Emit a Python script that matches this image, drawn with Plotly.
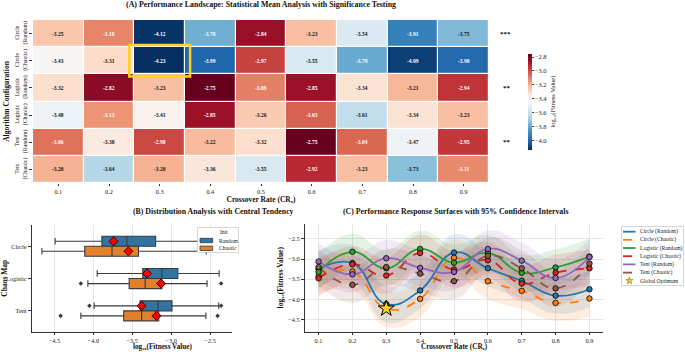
import plotly.graph_objects as go

FONT = "Liberation Serif"

# ---------------- data ----------------
crossover_rates = [0.1, 0.2, 0.3, 0.4, 0.5, 0.6, 0.7, 0.8, 0.9]
config_names = ["Circle (Random)", "Circle (Chaotic)", "Logistic (Random)",
                "Logistic (Chaotic)", "Tent (Random)", "Tent (Chaotic)"]
config_ticks = ["Circle<br>(Random)", "Circle<br>(Chaotic)", "Logistic<br>(Random)",
                "Logistic<br>(Chaotic)", "Tent<br>(Random)", "Tent<br>(Chaotic)"]

circle_random = [-3.25, -3.10, -4.12, -3.78, -2.84, -3.23, -3.54, -3.91, -3.75]
circle_chaotic = [-3.43, -3.31, -4.23, -3.99, -2.97, -3.55, -3.79, -4.09, -3.98]
logistic_random = [-3.32, -2.82, -3.23, -2.75, -3.09, -2.85, -3.34, -3.21, -2.94]
logistic_chaotic = [-3.48, -3.13, -3.41, -2.85, -3.26, -3.03, -3.61, -3.34, -3.23]
tent_random = [-3.06, -3.38, -2.98, -3.22, -3.32, -2.75, -3.04, -3.47, -2.95]
tent_chaotic = [-3.20, -3.64, -3.20, -3.36, -3.55, -2.92, -3.23, -3.73, -3.11]
significance = ["***", "", "**", "", "**", ""]
ci_halfwidth = [0.45, 0.45, 0.45, 0.45, 0.45, 0.45]

chaos_maps = ["Circle", "Logistic", "Tent"]
init_types = ["Random", "Chaotic"]
random_q1 = [-3.89, -3.365, -3.40]
random_median = [-3.57, -3.12, -3.17]
random_q3 = [-3.20, -2.915, -2.99]
random_lower = [-4.49, -3.95, -3.99]
random_upper = [-2.45, -2.385, -2.39]
random_mean = [-3.74, -3.31, -3.38]
random_outliers = [[], [], [-4.05, -2.36]]
chaotic_q1 = [-4.11, -3.54, -3.61]
chaotic_median = [-3.76, -3.335, -3.38]
chaotic_q3 = [-3.42, -3.12, -3.16]
chaotic_lower = [-4.66, -4.07, -4.16]
chaotic_upper = [-2.55, -2.54, -2.555]
chaotic_mean = [-3.55, -3.13, -3.19]
chaotic_outliers = [[], [-4.16, -2.36], [-4.42, -2.405]]

series = [circle_random, circle_chaotic, logistic_random,
          logistic_chaotic, tent_random, tent_chaotic]

# ---------------- styles ----------------
W, H = 685, 352
def px(x): return x / W
def py(y): return 1 - y / H

line_colors = ["#1f77b4", "#ff7f0e", "#2ca02c", "#d62728", "#9467bd", "#8c564b"]
line_dash = ["solid", "dash", "solid", "dash", "solid", "dash"]
box_colors = {"Random": "#3274A1", "Chaotic": "#E1812C"}

rdbu = ['#67001f', '#b2182b', '#d6604d', '#f4a582', '#fddbc7', '#f7f7f7',
        '#d1e5f0', '#92c5de', '#4393c3', '#2166ac', '#053061'][::-1]
colorscale = [[i / (len(rdbu) - 1), c] for i, c in enumerate(rdbu)]
ZMIN, ZMAX = -4.13, -2.75

def hex2rgb(h):
    h = h.lstrip('#')
    return tuple(int(h[i:i + 2], 16) for i in (0, 2, 4))

def cell_rgb(v):
    t = min(max((v - ZMIN) / (ZMAX - ZMIN), 0), 1) * (len(rdbu) - 1)
    i = min(int(t), len(rdbu) - 2)
    f = t - i
    a, b = hex2rgb(rdbu[i]), hex2rgb(rdbu[i + 1])
    return [a[k] + (b[k] - a[k]) * f for k in range(3)]

def luminance(rgb):
    out = []
    for c in rgb:
        c = c / 255
        out.append(c / 12.92 if c <= 0.03928 else ((c + 0.055) / 1.055) ** 2.4)
    return 0.2126 * out[0] + 0.7152 * out[1] + 0.0722 * out[2]

def rgba(h, a):
    r, g, b = hex2rgb(h)
    return f"rgba({r},{g},{b},{a})"

fig = go.Figure()
annotations = []
shapes = []

# ---------------- (A) heatmap ----------------
xcats = [f"{c:.1f}" for c in crossover_rates]
fig.add_trace(go.Heatmap(
    z=series, x=xcats, y=config_ticks, colorscale=colorscale,
    zmin=ZMIN, zmax=ZMAX, xgap=1.2, ygap=1.2, xaxis="x", yaxis="y",
    hoverinfo="skip",
    colorbar=dict(x=px(517.5), xanchor="left", y=py(101.6), yanchor="middle",
                  len=115.5 / H, lenmode="fraction", thickness=4, outlinewidth=0,
                  tickvals=[-4.0, -3.8, -3.6, -3.4, -3.2, -3.0, -2.8],
                  tickformat=".1f", ticks="outside", ticklen=2, tickwidth=0.8,
                  tickfont=dict(family=FONT, size=6.5, color="#222"),
                  title=dict(text="log₁₀(Fitness Value)", side="right",
                             font=dict(family=FONT, size=6.5, color="#222")))))

for i, row in enumerate(series):
    for j, v in enumerate(row):
        col = "white" if luminance(cell_rgb(v)) <= 0.408 else "#111"
        annotations.append(dict(x=j, y=i, xref="x", yref="y",
                                text=f"<b>{v:.2f}</b>", showarrow=False,
                                font=dict(family=FONT, size=5.5, color=col)))
    if significance[i]:
        annotations.append(dict(x=px(513), y=i, xref="paper", yref="y",
                                text=f"<b>{significance[i]}</b>", showarrow=False,
                                font=dict(family=FONT, size=7, color="#111")))

# highlight best cell
best_i, best_j = min(((i, j) for i in range(len(series)) for j in range(len(series[0]))),
                     key=lambda t: series[t[0]][t[1]])
shapes.append(dict(type="rect", xref="x", yref="y", x0=best_j - 0.6, x1=best_j + 0.6,
                   y0=best_i - 0.58, y1=best_i + 0.58,
                   line=dict(color="#FFD21F", width=2.5)))

# ---------------- (B) box plot ----------------
box_sets = {
    "Random": (random_q1, random_median, random_q3, random_lower, random_upper, random_mean, random_outliers, -0.155),
    "Chaotic": (chaotic_q1, chaotic_median, chaotic_q3, chaotic_lower, chaotic_upper, chaotic_mean, chaotic_outliers, 0.155),
}
for name, (q1, med, q3, lo, hi, mean, outl, off) in box_sets.items():
    pos = [k + off for k in range(len(chaos_maps))]
    fig.add_trace(go.Box(orientation="h", y=pos, q1=q1, median=med, q3=q3,
                         lowerfence=lo, upperfence=hi, width=0.31, whiskerwidth=0.65,
                         fillcolor=box_colors[name], line=dict(color="#3a3a3a", width=1.1),
                         boxpoints=False, name=name, showlegend=False,
                         xaxis="x2", yaxis="y2", hoverinfo="skip"))
    ox, oy = [], []
    for k, lst in enumerate(outl):
        for v in lst:
            ox.append(v)
            oy.append(pos[k])
    fig.add_trace(go.Scatter(x=ox, y=oy, mode="markers", xaxis="x2", yaxis="y2",
                             marker=dict(symbol="diamond", size=3.5, color="#3a3a3a"),
                             showlegend=False, hoverinfo="skip"))
for name, (q1, med, q3, lo, hi, mean, outl, off) in box_sets.items():
    pos = [k + off for k in range(len(chaos_maps))]
    fig.add_trace(go.Scatter(x=mean, y=pos, mode="markers", xaxis="x2", yaxis="y2",
                             marker=dict(symbol="diamond", size=7, color="red",
                                         line=dict(color="black", width=0.8)),
                             showlegend=False, hoverinfo="skip"))

# ---------------- (C) response curves ----------------
for k, vals in enumerate(series):
    up = [v + ci_halfwidth[k] for v in vals]
    lo = [v - ci_halfwidth[k] for v in vals]
    fig.add_trace(go.Scatter(x=crossover_rates, y=up, mode="lines", xaxis="x3", yaxis="y3",
                             line=dict(width=0, shape="spline", smoothing=1.3),
                             showlegend=False, hoverinfo="skip"))
    fig.add_trace(go.Scatter(x=crossover_rates, y=lo, mode="lines", xaxis="x3", yaxis="y3",
                             line=dict(width=0, shape="spline", smoothing=1.3),
                             fill="tonexty", fillcolor=rgba(line_colors[k], 0.13),
                             showlegend=False, hoverinfo="skip"))
for k, vals in enumerate(series):
    fig.add_trace(go.Scatter(x=crossover_rates, y=vals, mode="lines", xaxis="x3", yaxis="y3",
                             name=config_names[k],
                             line=dict(color=line_colors[k], width=1.8, dash=line_dash[k],
                                       shape="spline", smoothing=1.3),
                             showlegend=False, hoverinfo="skip"))
for k, vals in enumerate(series):
    fig.add_trace(go.Scatter(x=crossover_rates, y=vals, mode="markers", xaxis="x3", yaxis="y3",
                             marker=dict(size=5.5, color=line_colors[k],
                                         line=dict(color="black", width=0.8)),
                             showlegend=False, hoverinfo="skip"))
fig.add_trace(go.Scatter(x=[crossover_rates[best_j]], y=[series[best_i][best_j]],
                         mode="markers", xaxis="x3", yaxis="y3", name="Global Optimum",
                         marker=dict(symbol="star", size=12, color="#FFD21F",
                                     line=dict(color="black", width=1)),
                         showlegend=False, hoverinfo="skip"))

# ---------------- legends (drawn as layout items) ----------------
LEGFONT = dict(family=FONT, size=5.6, color="#222")
# panel C legend
shapes.append(dict(type="rect", xref="paper", yref="paper", x0=px(621.5), x1=px(683.5),
                   y0=py(285.5), y1=py(226.5), line=dict(color="#cccccc", width=0.8),
                   fillcolor="white", layer="above"))
leg_y = [231.7, 239.8, 248.0, 256.2, 264.4, 272.6, 280.8]
for k in range(len(series)):
    shapes.append(dict(type="line", xref="paper", yref="paper", x0=px(623), x1=px(635.5),
                       y0=py(leg_y[k]), y1=py(leg_y[k]),
                       line=dict(color=line_colors[k], width=1.8,
                                 dash="dash" if line_dash[k] == "dash" else "solid"),
                       layer="above"))
    annotations.append(dict(x=px(638), y=py(leg_y[k]), xref="paper", yref="paper",
                            xanchor="left", yanchor="middle", text=config_names[k],
                            showarrow=False, font=LEGFONT))
annotations.append(dict(x=px(629.3), y=py(leg_y[6]), xref="paper", yref="paper",
                        text="★", showarrow=False, xanchor="center", yanchor="middle",
                        font=dict(family="DejaVu Sans", size=10, color="#FFD21F")))
annotations.append(dict(x=px(629.3), y=py(leg_y[6]), xref="paper", yref="paper",
                        text="☆", showarrow=False, xanchor="center", yanchor="middle",
                        font=dict(family="DejaVu Sans", size=10, color="black")))
annotations.append(dict(x=px(638), y=py(leg_y[6]), xref="paper", yref="paper",
                        xanchor="left", yanchor="middle", text="Global Optimum",
                        showarrow=False, font=LEGFONT))

# panel B legend
shapes.append(dict(type="rect", xref="paper", yref="paper", x0=px(197.5), x1=px(238.5),
                   y0=py(252.5), y1=py(227.5), line=dict(color="#cccccc", width=0.8),
                   fillcolor="white", layer="above"))
annotations.append(dict(x=px(217.7), y=py(231.5), xref="paper", yref="paper",
                        text="Init", showarrow=False, font=LEGFONT))
for k, name in enumerate(init_types):
    yy = [240.5, 248.3][k]
    shapes.append(dict(type="rect", xref="paper", yref="paper", x0=px(200), x1=px(212.7),
                       y0=py(yy + 2.2), y1=py(yy - 2.2), fillcolor=box_colors[name],
                       line=dict(color="#3a3a3a", width=0.8), layer="above"))
    annotations.append(dict(x=px(216.5), y=py(yy), xref="paper", yref="paper",
                            xanchor="left", yanchor="middle", text=name, showarrow=False,
                            font=LEGFONT))

# ---------------- titles ----------------
annotations.append(dict(x=px(261), y=py(5), xref="paper", yref="paper",
                        text="<b>(A) Performance Landscape: Statistical Mean Analysis with Significance Testing</b>",
                        showarrow=False, yanchor="middle",
                        font=dict(family=FONT, size=7.9, color="#111")))
annotations.append(dict(x=px(131), y=py(211), xref="paper", yref="paper",
                        text="<b>(B) Distribution Analysis with Central Tendency</b>",
                        showarrow=False, yanchor="middle",
                        font=dict(family=FONT, size=7.8, color="#111")))
annotations.append(dict(x=px(455), y=py(211), xref="paper", yref="paper",
                        text="<b>(C) Performance Response Surfaces with 95% Confidence Intervals</b>",
                        showarrow=False, yanchor="middle",
                        font=dict(family=FONT, size=7.8, color="#111")))

tickfont = dict(family=FONT, size=6.3, color="#222")
titlefont = dict(family=FONT, size=7.5, color="#111")
btitlefont = dict(family=FONT, size=7.2, color="#111")

# bottom axis titles of panels B and C (placed below the tick labels)
annotations.append(dict(x=px(132), y=0, xref="paper", yref="paper",
                        text="<b>log₁₀(Fitness Value)</b>", showarrow=False,
                        yanchor="bottom", borderpad=0, font=btitlefont))
annotations.append(dict(x=px(454), y=0, xref="paper", yref="paper",
                        text="<b>Crossover Rate (CR₀)</b>", showarrow=False,
                        yanchor="bottom", borderpad=0, font=btitlefont))

PB = 331.5  # bottom pixel of panels B and C

fig.update_layout(
    width=W, height=H, autosize=False,
    margin=dict(l=0, r=0, t=0, b=0),
    paper_bgcolor="white", plot_bgcolor="white",
    showlegend=False,
    annotations=annotations, shapes=shapes,
    xaxis=dict(domain=[px(33), px(489)], anchor="y", type="category",
               showgrid=False, zeroline=False, ticks="outside", ticklen=2, tickwidth=0.8,
               tickcolor="#333", tickfont=tickfont, automargin=False,
               title=dict(text="<b>Crossover Rate (CR₀)</b>", font=titlefont, standoff=0)),
    yaxis=dict(domain=[py(183), py(20)], anchor="x", type="category", autorange="reversed",
               showgrid=False, zeroline=False, ticks="outside", ticklen=3, tickwidth=0.8,
               tickcolor="#333", tickangle=-90, tickfont=dict(family=FONT, size=5.8, color="#222"),
               automargin=False,
               title=dict(text="<b>Algorithm Configuration</b>", font=titlefont, standoff=3)),
    xaxis2=dict(domain=[px(32), px(232)], anchor="y2", range=[-4.787, -2.22],
                tickvals=[-4.5, -4.0, -3.5, -3.0, -2.5], tickformat=".1f",
                showgrid=True, gridcolor="#e6e6e6", gridwidth=0.8, zeroline=False,
                showline=True, linecolor="#333", linewidth=1.2,
                ticks="outside", ticklen=2.5, tickwidth=0.8, tickcolor="#333",
                tickfont=tickfont, automargin=False),
    yaxis2=dict(domain=[py(PB), py(225)], anchor="x2", range=[2.64, -0.66],
                tickvals=[0, 1, 2], ticktext=chaos_maps, showgrid=False, zeroline=False,
                showline=True, linecolor="#333", linewidth=1.2,
                ticks="outside", ticklen=3, tickwidth=0.8, tickcolor="#333",
                tickfont=tickfont, automargin=False,
                title=dict(text="<b>Chaos Map</b>", font=titlefont, standoff=6)),
    xaxis3=dict(domain=[px(305), px(603)], anchor="y3", range=[0.06, 0.94],
                tickvals=crossover_rates, tickformat=".1f",
                showgrid=True, gridcolor="#e6e6e6", gridwidth=0.8, zeroline=False,
                showline=True, linecolor="#333", linewidth=1.2,
                ticks="outside", ticklen=2.5, tickwidth=0.8, tickcolor="#333",
                tickfont=tickfont, automargin=False),
    yaxis3=dict(domain=[py(PB), py(224)], anchor="x3", range=[-4.80, -2.13],
                tickvals=[-4.5, -4.0, -3.5, -3.0, -2.5], tickformat=".1f",
                showgrid=True, gridcolor="#e6e6e6", gridwidth=0.8, zeroline=False,
                showline=True, linecolor="#333", linewidth=1.2,
                ticks="outside", ticklen=3, tickwidth=0.8, tickcolor="#333",
                tickfont=tickfont, automargin=False,
                title=dict(text="<b>log₁₀(Fitness Value)</b>", font=titlefont, standoff=3)),
)

fig.write_html("out.html", config={"displayModeBar": False},
               post_script="document.body.style.margin='0';document.body.style.padding='0';document.body.style.overflow='hidden';")
